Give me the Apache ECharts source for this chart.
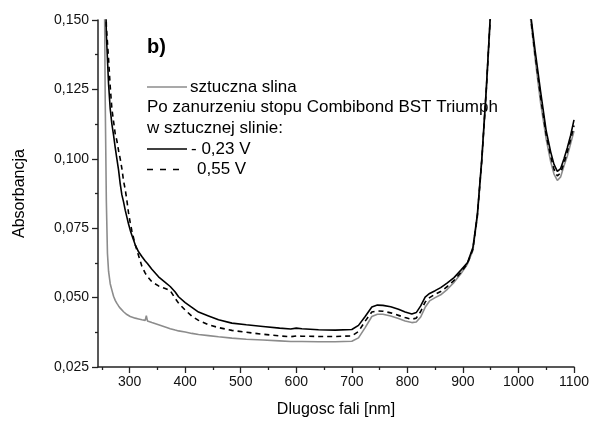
<!DOCTYPE html>
<html>
<head>
<meta charset="utf-8">
<script src="https://cdn.jsdelivr.net/npm/echarts@6/dist/echarts.min.js"></script>
<style>
html,body{margin:0;padding:0;background:#fff;}
#chart{width:591px;height:422px;}
</style>
</head>
<body>
<div id="chart"></div>
<script>
// Wavelengths [nm]
var wavelengths = [250, 253, 255, 256, 258, 260, 262, 265, 268, 271, 274, 277, 280, 283, 286, 289, 292, 295, 298, 301, 304, 310, 316, 322, 328, 330, 332, 340, 352, 364, 373, 382, 388, 400, 412, 424, 442, 460, 484, 510, 540, 570, 590, 600, 610, 640, 670, 700, 712, 724, 736, 746, 756, 770, 784, 796, 808, 816, 824, 832, 840, 850, 860, 872, 884, 896, 908, 918, 926, 934, 942, 950, 965, 990, 1010, 1022, 1030, 1040, 1050, 1058, 1064, 1070, 1076, 1082, 1088, 1094, 1100];

// sztuczna slina (grey)
var absSaliva = [0.40, 0.22, 0.150, 0.121, 0.085, 0.066, 0.0595, 0.055, 0.0527, 0.0505, 0.049, 0.0479, 0.0470, 0.0462, 0.0455, 0.0449, 0.0444, 0.0439, 0.0435, 0.0432, 0.0430, 0.0426, 0.0423, 0.0420, 0.0418, 0.0435, 0.0416, 0.0410, 0.0402, 0.0394, 0.0388, 0.0383, 0.0380, 0.0376, 0.0371, 0.0367, 0.0363, 0.0359, 0.0354, 0.0350, 0.0347, 0.0344, 0.0342, 0.0342, 0.0342, 0.0341, 0.0341, 0.0343, 0.0355, 0.0392, 0.0432, 0.0440, 0.0440, 0.0434, 0.0425, 0.0416, 0.0410, 0.0412, 0.0430, 0.0465, 0.0488, 0.0500, 0.0510, 0.0530, 0.0555, 0.0585, 0.0620, 0.0670, 0.0790, 0.0990, 0.1240, 0.1530, 0.2100, 0.2800, 0.2000, 0.1500, 0.1360, 0.1200, 0.1070, 0.0990, 0.0945, 0.0922, 0.0935, 0.0975, 0.1010, 0.1055, 0.1100];

// - 0,23 V (solid black)
var absMinus023 = [0.60, 0.40, 0.25, 0.17, 0.145, 0.136, 0.127, 0.118, 0.1125, 0.1085, 0.104, 0.100, 0.096, 0.091, 0.087, 0.0845, 0.0815, 0.079, 0.0765, 0.0743, 0.0725, 0.0690, 0.0665, 0.0648, 0.0632, 0.0628, 0.0623, 0.0602, 0.0575, 0.0555, 0.0540, 0.0520, 0.0503, 0.0482, 0.0465, 0.0448, 0.0434, 0.0420, 0.0408, 0.0402, 0.0396, 0.0390, 0.0387, 0.0390, 0.0388, 0.0384, 0.0383, 0.0385, 0.0400, 0.0432, 0.0466, 0.0473, 0.0472, 0.0467, 0.0458, 0.0448, 0.0441, 0.0446, 0.0470, 0.0502, 0.0515, 0.0525, 0.0536, 0.0553, 0.0572, 0.0598, 0.0625, 0.0680, 0.0800, 0.1000, 0.1250, 0.1540, 0.2200, 0.3000, 0.2100, 0.1520, 0.1390, 0.1240, 0.1100, 0.1025, 0.0980, 0.0955, 0.0965, 0.1000, 0.1040, 0.1085, 0.1140];

// 0,55 V (dashed black)
var abs055 = [0.60, 0.40, 0.25, 0.17, 0.148, 0.142, 0.136, 0.126, 0.118, 0.1135, 0.109, 0.1065, 0.103, 0.100, 0.0965, 0.0920, 0.0890, 0.0850, 0.0805, 0.0770, 0.0740, 0.0690, 0.0652, 0.0613, 0.0588, 0.0582, 0.0576, 0.0557, 0.0542, 0.0533, 0.0525, 0.0497, 0.0480, 0.0455, 0.0433, 0.0418, 0.0402, 0.0392, 0.0382, 0.0375, 0.0368, 0.0362, 0.0359, 0.0362, 0.0361, 0.0360, 0.0360, 0.0362, 0.0378, 0.0415, 0.0448, 0.0452, 0.0451, 0.0445, 0.0436, 0.0428, 0.0422, 0.0426, 0.0450, 0.0484, 0.0500, 0.0512, 0.0522, 0.0540, 0.0562, 0.0590, 0.0622, 0.0675, 0.0795, 0.0995, 0.1245, 0.1535, 0.2150, 0.2900, 0.2050, 0.1510, 0.1375, 0.1220, 0.1085, 0.1010, 0.0962, 0.0938, 0.0950, 0.0985, 0.1025, 0.1070, 0.1120];

var xMajorTicks = [300, 400, 500, 600, 700, 800, 900, 1000, 1100];
var xMinorTicks = [250, 350, 450, 550, 650, 750, 850, 950, 1050];
var yTicks = [0.025, 0.050, 0.075, 0.100, 0.125, 0.150];

var legendTexts = ['sztuczna slina', 'Po zanurzeniu stopu Combibond BST Triumph', 'w sztucznej slinie:', '- 0,23 V', '0,55 V'];

function pairs(xs, ys) { return xs.map(function (x, i) { return [x, ys[i]]; }); }

var FONT = '"Liberation Sans", Arial, sans-serif';
var chart = echarts.init(document.getElementById('chart'), null, {renderer: 'canvas'});

var option = {
  animation: false,
  backgroundColor: '#ffffff',
  grid: {left: 98, right: 17, top: 20, bottom: 55, containLabel: false, outerBoundsMode: 'none'},
  xAxis: [{
    type: 'value', min: 243, max: 1100, position: 'bottom',
    name: 'Dlugosc fali [nm]', nameLocation: 'middle', nameGap: 35,
    nameTextStyle: {fontFamily: FONT, fontSize: 16, color: '#000'},
    axisLine: {show: true, lineStyle: {color: '#222', width: 1.5}},
    axisTick: {show: true, inside: false, length: 6, customValues: xMajorTicks, lineStyle: {color: '#222', width: 1.3}},
    axisLabel: {show: true, customValues: xMajorTicks, margin: 8, fontFamily: FONT, fontSize: 14, color: '#111',
      formatter: function (v) { return String(Math.round(v)); }},
    splitLine: {show: false}
  }, {
    type: 'value', min: 243, max: 1100, position: 'bottom', gridIndex: 0,
    axisLine: {show: false},
    axisTick: {show: true, inside: false, length: 3, customValues: xMinorTicks, lineStyle: {color: '#222', width: 1.3}},
    axisLabel: {show: false},
    splitLine: {show: false}
  }],
  yAxis: {
    type: 'value', min: 0.025, max: 0.150, interval: 0.025,
    name: 'Absorbancja', nameLocation: 'middle', nameGap: 70, nameRotate: 90,
    nameTextStyle: {fontFamily: FONT, fontSize: 16, color: '#000'},
    axisLine: {show: true, lineStyle: {color: '#222', width: 1.5}},
    axisTick: {show: true, inside: false, length: 6, lineStyle: {color: '#222', width: 1.3}},
    minorTick: {show: true, splitNumber: 2, length: 3, lineStyle: {color: '#222', width: 1.3}},
    axisLabel: {margin: 9, fontFamily: FONT, fontSize: 14, color: '#111',
      formatter: function (v) { return v.toFixed(3).replace('.', ','); }},
    splitLine: {show: false}
  },
  series: [{
    name: 'sztuczna slina', type: 'line', data: pairs(wavelengths, absSaliva),
    showSymbol: false, clip: true, lineStyle: {color: '#8c8c8c', width: 1.6}, z: 2
  }, {
    name: '0,55 V', type: 'line', data: pairs(wavelengths, abs055),
    showSymbol: false, clip: true, lineStyle: {color: '#000', width: 1.6, type: [5, 4]}, z: 3
  }, {
    name: '- 0,23 V', type: 'line', data: pairs(wavelengths, absMinus023),
    showSymbol: false, clip: true, lineStyle: {color: '#000', width: 1.6}, z: 4
  }],
  graphic: [
    {type: 'text', left: 147, top: 37, style: {text: 'b)', fontFamily: FONT, fontSize: 20, fontWeight: 'bold', fill: '#000'}},
    {type: 'line', shape: {x1: 147, y1: 87, x2: 187, y2: 87}, style: {stroke: '#8c8c8c', lineWidth: 1.6}},
    {type: 'text', x: 190, y: 87, style: {text: legendTexts[0], fontFamily: FONT, fontSize: 17, fill: '#000', textVerticalAlign: 'middle'}},
    {type: 'text', x: 147, y: 107.5, style: {text: legendTexts[1], fontFamily: FONT, fontSize: 17, fill: '#000', textVerticalAlign: 'middle'}},
    {type: 'text', x: 147, y: 128, style: {text: legendTexts[2], fontFamily: FONT, fontSize: 17, fill: '#000', textVerticalAlign: 'middle'}},
    {type: 'line', shape: {x1: 147, y1: 149, x2: 187, y2: 149}, style: {stroke: '#000', lineWidth: 1.6}},
    {type: 'text', x: 191, y: 149, style: {text: legendTexts[3], fontFamily: FONT, fontSize: 17, fill: '#000', textVerticalAlign: 'middle'}},
    {type: 'line', shape: {x1: 147, y1: 169.5, x2: 179, y2: 169.5}, style: {stroke: '#000', lineWidth: 1.6, lineDash: [6, 7]}},
    {type: 'text', x: 197, y: 169.5, style: {text: legendTexts[4], fontFamily: FONT, fontSize: 17, fill: '#000', textVerticalAlign: 'middle'}}
  ]
};
chart.setOption(option);
</script>
</body>
</html>
